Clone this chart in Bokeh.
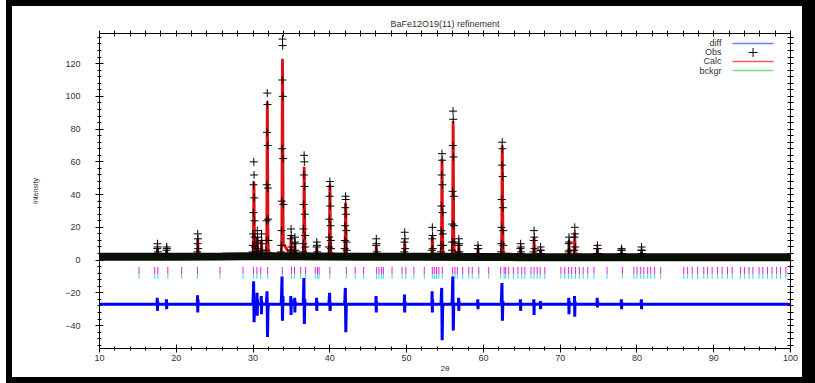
import numpy as np
from bokeh.plotting import figure
from bokeh.models import LinearAxis, Label, SingleIntervalTicker, FixedTicker
from bokeh.embed import file_html
from bokeh.resources import INLINE

# ---------------- data ----------------
title_text = "BaFe12O19(11) refinement"
x_label = "2θ"
y_label = "Intensity"
legend_labels = ["diff", "Obs", "Calc", "bckgr"]

# background (bckgr) curve
bkg_x = [10, 14, 20, 26, 29, 33, 39, 44, 48, 52, 58, 61, 65, 69, 74, 80, 85, 90, 95, 100]
bkg_y = [2.0, 2.0, 2.1, 2.2, 2.3, 2.3, 2.2, 2.1, 2.0, 2.0, 1.9, 1.9, 1.8, 1.8, 1.7, 1.7, 1.7, 1.7, 1.7, 1.7]
diff_offset = -27.0

# strong reflections: centre, step offsets of the profile, observed / calculated / difference values
big_centers = [30.10, 31.85, 33.80, 36.65, 40.00, 42.05, 54.60, 56.05, 62.45]
big_offsets = [-0.15, -0.12, -0.09, -0.06, -0.03, 0.0, 0.03, 0.06, 0.09, 0.12, 0.15]
big_obs = [
    [5, 9, 16, 29, 46, 60, 52, 38, 24, 14, 8],
    [6, 12, 24, 46, 78, 102, 95, 70, 44, 25, 12],
    [5, 9, 18, 36, 68, 110, 135, 131, 100, 62, 34],
    [5, 10, 19, 34, 52, 64, 60, 45, 28, 15, 8],
    [4, 8, 14, 25, 39, 48, 45, 33, 21, 12, 7],
    [4, 7, 12, 21, 32, 39, 37, 28, 18, 11, 6],
    [5, 9, 18, 33, 52, 65, 61, 46, 29, 16, 9],
    [6, 11, 22, 42, 70, 91, 86, 63, 39, 21, 11],
    [5, 10, 20, 37, 58, 72, 68, 51, 32, 18, 9],
]
big_calc = [
    [3, 4, 6, 12, 28, 48, 44, 26, 12, 6, 4],
    [3, 5, 9, 20, 55, 97, 90, 50, 20, 9, 5],
    [3, 5, 8, 16, 40, 90, 123, 115, 62, 24, 10],
    [3, 4, 7, 14, 34, 57, 53, 30, 13, 7, 4],
    [3, 4, 6, 12, 28, 46, 43, 25, 11, 6, 4],
    [3, 4, 6, 10, 22, 35, 33, 19, 9, 5, 3],
    [3, 4, 7, 15, 37, 62, 58, 33, 14, 7, 4],
    [3, 5, 9, 19, 50, 85, 80, 45, 18, 9, 5],
    [3, 4, 8, 17, 42, 70, 66, 38, 16, 8, 4],
]
big_diff = [
    [-27, -26, -24, -20, -13, -22, -38, -33, -25, -28, -27],
    [-27, -26, -25, -22, -19, -30, -47, -40, -31, -28, -27],
    [-27, -25, -22, -16, -10, -24, -37, -31, -22, -26, -27],
    [-27, -26, -23, -17, -11, -25, -39, -33, -24, -27, -27],
    [-27, -26, -25, -22, -20, -26, -31, -29, -26, -27, -27],
    [-27, -26, -24, -20, -17, -30, -44, -36, -28, -27, -27],
    [-27, -26, -24, -20, -17, -32, -49, -40, -30, -27, -27],
    [-27, -25, -21, -15, -10, -26, -43, -36, -27, -26, -27],
    [-27, -26, -23, -18, -14, -26, -37, -31, -25, -27, -27],
]

# weak reflections
small_centers = [17.55, 18.75, 22.80, 30.55, 31.10, 34.95, 35.45, 38.30, 46.05, 49.75, 53.35,
                 56.80, 59.30, 64.85, 66.60, 67.45, 71.15, 71.90, 74.85, 78.00, 80.60]
small_offsets = [-0.06, -0.03, 0.0, 0.03, 0.06]
small_obs = [
    [4, 7, 10, 8, 5], [4, 6, 8, 7, 4], [5, 10, 16, 13, 7], [5, 11, 18, 14, 7],
    [5, 10, 16, 12, 6], [6, 13, 19, 15, 8], [5, 10, 14, 11, 6], [4, 8, 11, 9, 5],
    [4, 9, 13, 10, 5], [5, 11, 17, 13, 7], [6, 13, 20, 15, 7], [5, 9, 13, 10, 5],
    [4, 7, 9, 7, 4], [4, 7, 10, 8, 5], [5, 12, 18, 14, 7], [4, 6, 8, 6, 4],
    [5, 10, 14, 11, 6], [6, 14, 20, 16, 8], [4, 7, 9, 7, 4], [4, 6, 7, 6, 4],
    [4, 6, 8, 6, 4],
]
small_calc = [
    [3, 5, 7, 5, 3], [3, 4, 6, 4, 3], [3, 7, 13, 8, 3], [3, 8, 14, 9, 4],
    [3, 7, 12, 8, 3], [3, 9, 15, 10, 4], [3, 7, 11, 8, 3], [3, 5, 8, 6, 3],
    [3, 5, 9, 6, 3], [3, 7, 12, 8, 3], [3, 8, 15, 10, 4], [3, 6, 10, 7, 3],
    [3, 5, 7, 5, 3], [3, 5, 8, 6, 3], [3, 8, 14, 9, 3], [3, 4, 6, 4, 3],
    [3, 7, 12, 8, 3], [3, 9, 17, 11, 4], [3, 5, 7, 5, 3], [3, 4, 5, 4, 3],
    [3, 4, 5, 4, 3],
]
small_diff = [
    [-27, -23, -31, -25, -27], [-27, -24, -30, -26, -27], [-27, -21.5, -32, -24, -27],
    [-27, -20, -34, -24, -27], [-27, -22, -33, -25, -27], [-27, -22, -33.5, -24, -27],
    [-27, -23, -32, -25, -27], [-27, -23, -31, -25, -27], [-27, -22, -32, -25, -27],
    [-27, -21, -32, -25, -27], [-27, -19, -32, -24, -27], [-27, -23, -31, -25, -27],
    [-27, -24, -30, -26, -27], [-27, -24, -31, -26, -27], [-27, -24, -33.5, -26, -27],
    [-27, -25, -30, -26, -27], [-27, -23, -33, -25, -27], [-27, -22, -34.6, -25, -27],
    [-27, -23, -29, -25, -27], [-27, -24, -30, -26, -27], [-27, -24, -30, -26, -27],
]

# reflection tick positions (2theta)
reflections = [15.15, 17.2, 17.6, 18.9, 20.7, 22.75, 25.7, 28.7, 30.05, 30.5, 31.0, 31.9,
               33.8, 35.0, 35.4, 36.2, 36.85, 38.1, 38.4, 38.6, 40.0, 42.15, 43.3, 44.4,
               46.1, 46.4, 46.75, 46.97, 48.1, 49.4, 49.9, 50.95, 52.3, 53.35, 53.6, 53.9,
               54.2, 54.65, 56.0, 56.3, 56.6, 57.3, 58.1, 58.55, 59.4, 60.7, 62.25, 62.7,
               62.9, 63.3, 63.9, 64.5, 65.0, 65.4, 66.2, 66.6, 67.0, 67.4, 68.0, 70.1, 70.6,
               71.1, 71.5, 72.0, 72.5, 73.0, 73.6, 74.4, 76.1, 78.1, 79.6, 80.0, 80.5, 80.9,
               81.4, 81.8, 82.3, 83.1, 86.1, 86.6, 87.2, 87.9, 88.7, 89.2, 89.8, 90.5, 91.1,
               91.8, 92.4, 93.5, 94.0, 94.6, 95.1, 95.9, 96.4, 97.0, 97.6, 98.2, 98.7, 99.4]

# ---------------- assemble series ----------------
obs_x, obs_y, calc_pts, diff_pts = [], [], [], []
for centers, offsets, obs, calc, diff in [
        (big_centers, big_offsets, big_obs, big_calc, big_diff),
        (small_centers, small_offsets, small_obs, small_calc, small_diff)]:
    for c, o_row, c_row, d_row in zip(centers, obs, calc, diff):
        for off, o, cv, dv in zip(offsets, o_row, c_row, d_row):
            x = round(c + off, 3)
            obs_x.append(x)
            obs_y.append(o)
            calc_pts.append((x, cv))
            diff_pts.append((x, dv))
calc_pts += list(zip(bkg_x, bkg_y))
diff_pts += [(x, diff_offset) for x in bkg_x]
calc_pts.sort()
diff_pts.sort()
calc_x, calc_y = [a for a, b in calc_pts], [b for a, b in calc_pts]
diff_x, diff_y = [a for a, b in diff_pts], [b for a, b in diff_pts]

X_RANGE = (10, 100)
Y_RANGE = (-54, 138.4)
FONT = "Liberation Sans"
TXT = "#333333"

p = figure(width=815, height=383, x_range=X_RANGE, y_range=Y_RANGE,
           output_backend="svg", toolbar_location=None,
           min_border_left=99, min_border_right=25, min_border_top=33, min_border_bottom=35,
           background_fill_color="white", border_fill_color=None)
# black picture frame round the whole image
p.styles = {"box-shadow": "inset 6px 0 0 0 white, inset 0 6px 0 0 black, inset -13px 0 0 0 black, "
                          "inset 0 -6px 0 0 black, inset 12px 0 0 0 black"}
p.outline_line_color = None
p.grid.visible = False

p.title.text = title_text
p.title.align = "center"
p.title.text_font = FONT
p.title.text_font_size = "9px"
p.title.text_font_style = "normal"
p.title.text_color = TXT
p.title.standoff = 4


def style_axis(ax):
    ax.axis_line_color = "black"
    ax.major_tick_line_color = "black"
    ax.minor_tick_line_color = "black"
    ax.major_tick_in = 4
    ax.major_tick_out = 4
    ax.minor_tick_in = 2
    ax.minor_tick_out = 2
    ax.major_label_text_font = FONT
    ax.major_label_text_color = TXT
    ax.major_label_text_font_size = "9px"


xa = p.xaxis[0]
xa.ticker = SingleIntervalTicker(interval=10, num_minor_ticks=5)
style_axis(xa)
xa.major_label_standoff = 2
xa.axis_label = x_label
xa.axis_label_text_font = FONT
xa.axis_label_text_font_size = "8px"
xa.axis_label_text_font_style = "normal"
xa.axis_label_text_color = TXT
xa.axis_label_standoff = 0

ya = p.yaxis[0]
ya.ticker = SingleIntervalTicker(interval=20, num_minor_ticks=5)
style_axis(ya)
ya.major_label_standoff = 15
ya.axis_label = y_label
ya.axis_label_text_font = FONT
ya.axis_label_text_font_size = "7px"
ya.axis_label_text_font_style = "normal"
ya.axis_label_text_color = TXT
ya.axis_label_standoff = 23

# mirrored axes (ticks only, no labels)
top_ticks = list(np.arange(X_RANGE[0], X_RANGE[1] + 0.1, 2.0))
right_ticks = list(np.arange(-52, Y_RANGE[1], 4.0))
for ticks, side in [(top_ticks, "above"), (right_ticks, "right")]:
    ax = LinearAxis(ticker=FixedTicker(ticks=[], minor_ticks=ticks))
    ax.axis_line_color = "black"
    ax.minor_tick_line_color = "black"
    ax.minor_tick_in = 3
    ax.minor_tick_out = 3
    ax.major_label_standoff = 0
    p.add_layout(ax, side)

# background (green), calc (red), obs band and crosses (black)
p.line(bkg_x, bkg_y, line_color="#22cc22", line_width=1)
p.line(calc_x, calc_y, line_color="#e01010", line_width=2.8)
p.line(bkg_x, bkg_y, line_color="#0a1006", line_width=8)
p.scatter(obs_x, obs_y, marker="cross", size=8, line_color="black", line_width=1)

# reflection ticks
n_ref = len(reflections)
p.segment(x0=reflections, y0=[-4.2] * n_ref, x1=reflections, y1=[-8.5] * n_ref,
          line_color="#dd22dd", line_width=1)
p.segment(x0=reflections, y0=[-8.5] * n_ref, x1=reflections, y1=[-11.5] * n_ref,
          line_color="#33dddd", line_width=1)

# difference curve
p.line(diff_x, diff_y, line_color="#0000ff", line_width=3)

# legend (label then sample, as in the reference)
leg_text_x = 91.0
leg_line = (92.45, 97.8)
leg_y = [132.3, 126.8, 121.3, 115.8]
for lab, yy in zip(legend_labels, leg_y):
    p.add_layout(Label(x=leg_text_x, y=yy, text=lab, text_align="right", text_baseline="middle",
                       text_font=FONT, text_font_size="9px", text_color=TXT))
p.segment(x0=[leg_line[0]], y0=[leg_y[0]], x1=[leg_line[1]], y1=[leg_y[0]], line_color="#6f7dff", line_width=1.5)
p.scatter([sum(leg_line) / 2], [leg_y[1]], marker="cross", size=9, line_color="black", line_width=1)
p.segment(x0=[leg_line[0]], y0=[leg_y[2]], x1=[leg_line[1]], y1=[leg_y[2]], line_color="#ff5a5a", line_width=1.5)
p.segment(x0=[leg_line[0]], y0=[leg_y[3]], x1=[leg_line[1]], y1=[leg_y[3]], line_color="#7de07d", line_width=1.5)

open("out.html", "w").write(file_html(p, INLINE))
